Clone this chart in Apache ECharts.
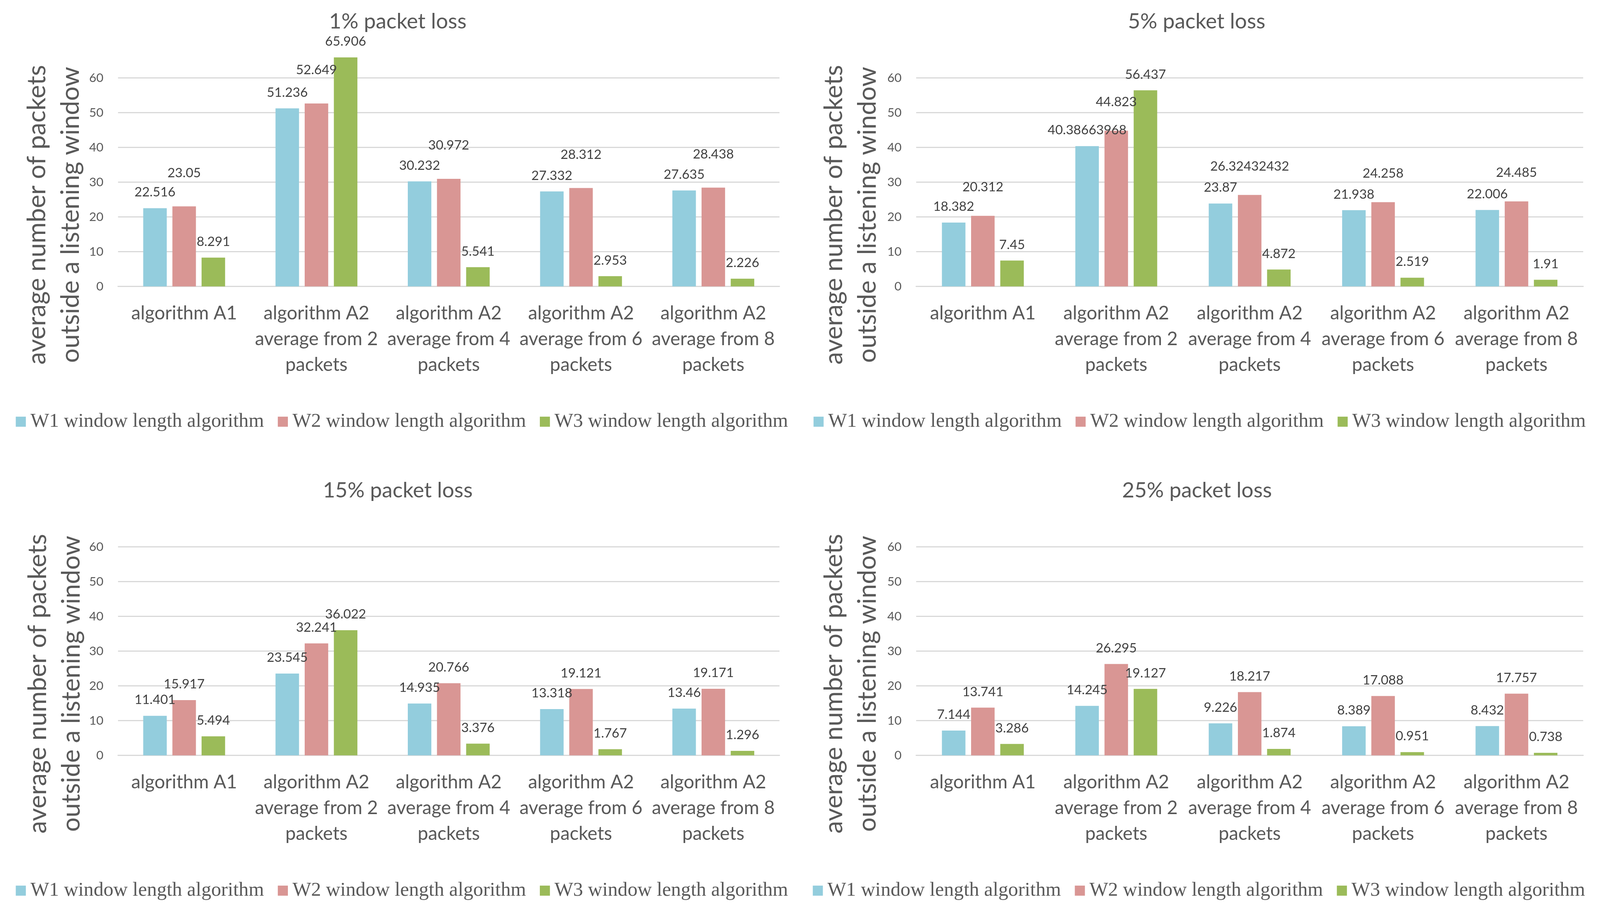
<!DOCTYPE html>
<html>
<head>
<meta charset="utf-8">
<script src="https://cdn.jsdelivr.net/npm/echarts@6/dist/echarts.min.js"></script>
<style>
html,body{margin:0;padding:0;background:#ffffff;overflow:hidden;}
#chart{width:100vw;height:100vh;}
</style>
</head>
<body>
<div id="chart"></div>
<script>
// ---------- data ----------
const categories = [
  'algorithm A1',
  'algorithm A2 average from 2 packets',
  'algorithm A2 average from 4 packets',
  'algorithm A2 average from 6 packets',
  'algorithm A2 average from 8 packets'
];
const seriesNames = ['W1 window length algorithm', 'W2 window length algorithm', 'W3 window length algorithm'];
const panelTitles = ['1% packet loss', '5% packet loss', '15% packet loss', '25% packet loss'];
const yAxisTitle = 'average number of packets\noutside a listening window';
const yTickValues = [0, 10, 20, 30, 40, 50, 60];

const loss1W1 = [22.516, 51.236, 30.232, 27.332, 27.635];
const loss1W2 = [23.05, 52.649, 30.972, 28.312, 28.438];
const loss1W3 = [8.291, 65.906, 5.541, 2.953, 2.226];

const loss5W1 = [18.382, 40.38663968, 23.87, 21.938, 22.006];
const loss5W2 = [20.312, 44.823, 26.32432432, 24.258, 24.485];
const loss5W3 = [7.45, 56.437, 4.872, 2.519, 1.91];

const loss15W1 = [11.401, 23.545, 14.935, 13.318, 13.46];
const loss15W2 = [15.917, 32.241, 20.766, 19.121, 19.171];
const loss15W3 = [5.494, 36.022, 3.376, 1.767, 1.296];

const loss25W1 = [7.144, 14.245, 9.226, 8.389, 8.432];
const loss25W2 = [13.741, 26.295, 18.217, 17.088, 17.757];
const loss25W3 = [3.286, 19.127, 1.874, 0.951, 0.738];

// ---------- layout / style ----------
const el = document.getElementById('chart');
const W = el.clientWidth || 4284, H = el.clientHeight || 2328;
const kx = W / 4284, ky = H / 2328, kf = Math.min(kx, ky);
const X = v => v * kx, Y = v => v * ky, F = v => v * kf;

const colors = ['#93CDDD', '#D99694', '#9BBB59'];
const textGray = '#595959';
const labelDark = '#404040';
const gridColor = '#D9D9D9';
const sans = 'Lato';
const serif = 'Liberation Serif';

const panelData = [
  [loss1W1, loss1W2, loss1W3],
  [loss5W1, loss5W2, loss5W3],
  [loss15W1, loss15W2, loss15W3],
  [loss25W1, loss25W2, loss25W3]
];
const rowDy = 1201;
const panelLayout = [
  {left: 316,  width: 1771, titleX: 1065, nameX: 144,  legendLeft: 37,   dy: 0},
  {left: 2453, width: 1786, titleX: 3204, nameX: 2278, legendLeft: 2173, dy: 0},
  {left: 316,  width: 1771, titleX: 1065, nameX: 146,  legendLeft: 37,   dy: rowDy},
  {left: 2453, width: 1786, titleX: 3205, nameX: 2278, legendLeft: 2171, dy: rowDy}
];
const gridTop = 199.6, gridHeight = 534;
const labelDistances = [
  [24, 69, 24],
  [24, 57, 24],
  [24, 24, 24],
  [24, 24, 24]
];

const grids = [], xAxes = [], yAxes = [], series = [], legends = [], graphics = [];

panelLayout.forEach((p, i) => {
  grids.push({left: X(p.left), top: Y(gridTop + p.dy), width: X(p.width), height: Y(gridHeight)});
  xAxes.push({
    type: 'category',
    gridIndex: i,
    data: categories,
    axisTick: {show: false},
    axisLine: {show: true, lineStyle: {color: gridColor, width: F(3)}},
    axisLabel: {
      interval: 0,
      margin: Y(36),
      color: textGray,
      fontFamily: sans,
      fontSize: F(50),
      lineHeight: Y(66),
      formatter: v => v.replace(' average', '\naverage').replace(' packets', '\npackets')
    }
  });
  yAxes.push({
    type: 'value',
    gridIndex: i,
    min: yTickValues[0],
    max: yTickValues[yTickValues.length - 1],
    interval: yTickValues[1] - yTickValues[0],
    axisLine: {show: false},
    axisTick: {show: false},
    splitLine: {show: true, lineStyle: {color: gridColor, width: F(3)}},
    axisLabel: {color: textGray, fontFamily: sans, fontSize: F(33), margin: X(39)}
  });
  panelData[i].forEach((vals, s) => {
    series.push({
      type: 'bar',
      name: seriesNames[s],
      xAxisIndex: i,
      yAxisIndex: i,
      data: vals,
      clip: false,
      barWidth: X(63),
      barGap: '24%',
      itemStyle: {color: colors[s]},
      label: {
        show: true,
        position: 'top',
        distance: Y(labelDistances[i][s]),
        color: labelDark,
        fontFamily: sans,
        fontSize: F(35),
        formatter: '{c}'
      }
    });
  });
  legends.push({
    data: seriesNames,
    left: X(p.legendLeft),
    top: Y(1075 + p.dy) - F(27),
    orient: 'horizontal',
    icon: 'rect',
    itemWidth: F(27),
    itemHeight: F(27),
    itemGap: X(37),
    selectedMode: false,
    textStyle: {color: textGray, fontFamily: serif, fontSize: F(53), lineHeight: F(54), padding: [0, 0, 0, X(7)]}
  });
  graphics.push({
    type: 'text',
    x: X(p.titleX),
    y: Y(55 + p.dy),
    style: {
      text: panelTitles[i],
      fill: textGray,
      fontFamily: sans,
      fontSize: F(57),
      align: 'center',
      verticalAlign: 'middle'
    }
  });
  graphics.push({
    type: 'text',
    x: X(p.nameX),
    y: Y(550 + p.dy),
    rotation: Math.PI / 2,
    style: {
      text: yAxisTitle,
      fill: textGray,
      fontFamily: sans,
      fontSize: Y(65),
      lineHeight: Y(86),
      align: 'center',
      verticalAlign: 'middle'
    }
  });
});

const chart = echarts.init(el, null, {renderer: 'canvas'});
chart.setOption({
  backgroundColor: '#ffffff',
  animation: false,
  grid: grids,
  xAxis: xAxes,
  yAxis: yAxes,
  legend: legends,
  series: series,
  graphic: graphics
});
</script>
</body>
</html>
